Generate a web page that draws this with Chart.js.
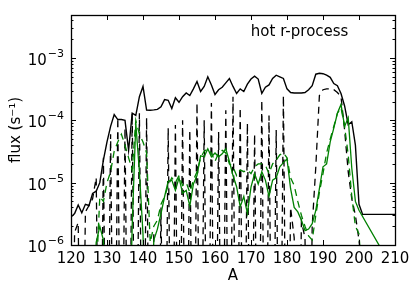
<!DOCTYPE html>
<html>
<head>
<meta charset="utf-8">
<script src="https://cdn.jsdelivr.net/npm/chart.js@4/dist/chart.umd.min.js"></script>
<style>
  html, body { margin: 0; padding: 0; background: #ffffff; }
  canvas { display: block; }
</style>
</head>
<body>
<canvas id="c" width="415" height="296"></canvas>
<script>
// ---- Data ----
const annotation = 'hot r-process';
const xTitle = 'A';
const yTitle = 'flux (s\u207B\u00B9)';
const xTickValues = [120, 130, 140, 150, 160, 170, 180, 190, 200, 210];
const yTickValues = [1e-6, 1e-5, 1e-4, 1e-3];
const yTickBase = '10';
const yTickExponents = ['\u22126', '\u22125', '\u22124', '\u22123'];

// black solid (total)
const massBlackSolid = [120,121,122,123,124,125,126,127,128,129,130,131,132,133,134,135,136,137,138,139,
  140,141,142,143,144,145,146,147,148,149,150,151,152,153,154,155,156,157,158,159,
  160,161,162,163,164,165,166,167,168,169,170,171,172,173,174,175,176,177,178,179,
  180,181,182,183,184,185,186,187,188,189,190,191,192,193,194,195,196,197,198,199,
  200,201,202,203,204,205,206,207,208,209,210];
const fluxBlackSolid = [2.8e-6,3.2e-6,4.4e-6,3.3e-6,4.5e-6,4.3e-6,6.7e-6,7.3e-6,1.0e-5,2.3e-5,
  4.5e-5,8.0e-5,1.24e-4,1.03e-4,1.03e-4,1.0e-4,3.3e-5,1.3e-4,1.2e-4,2.4e-4,
  3.5e-4,1.46e-4,1.45e-4,1.47e-4,1.5e-4,1.65e-4,2.15e-4,2.1e-4,1.55e-4,2.3e-4,
  1.95e-4,2.4e-4,2.75e-4,2.5e-4,3.2e-4,4.2e-4,2.9e-4,3.5e-4,5.0e-4,3.7e-4,
  2.6e-4,3.1e-4,3.4e-4,4.0e-4,4.7e-4,3.5e-4,2.7e-4,3.2e-4,2.9e-4,3.8e-4,
  4.6e-4,5.1e-4,4.6e-4,2.7e-4,3.4e-4,3.7e-4,4.7e-4,5.3e-4,5.0e-4,4.7e-4,
  3.2e-4,2.8e-4,2.75e-4,2.75e-4,2.75e-4,2.8e-4,3.1e-4,3.6e-4,5.5e-4,5.7e-4,
  5.6e-4,5.3e-4,4.9e-4,3.9e-4,3.6e-4,2.7e-4,1.7e-4,8.5e-5,9.5e-5,4.0e-5,
  4.5e-6,3.1e-6,3.1e-6,3.1e-6,3.1e-6,3.1e-6,3.1e-6,3.1e-6,3.1e-6,3.1e-6,3.1e-6];

// black dashed
const massBlackDashed = [120,121,122,123,124,125,126,127,128,129,130,131,132,133,134,135,136,137,138,139,
  140,141,142,143,144,145,146,147,148,149,150,151,152,153,154,155,156,157,158,159,
  160,161,162,163,164,165,166,167,168,169,170,171,172,173,174,175,176,177,178,179,
  180,181,182,183,184,185,186,187,188,189,190,191,192,193,194,195,196,197,198,199,
  200,201];
const fluxBlackDashed = [1e-10,1.6e-6,2.3e-6,1e-10,3.4e-6,4.3e-6,5.5e-6,1.2e-5,1e-10,2.5e-5,
  1e-10,6.0e-5,1e-10,1.1e-4,1e-10,7.5e-5,1e-10,1.3e-4,1e-10,1.3e-4,
  1e-10,1.1e-4,1e-10,1.6e-6,1e-10,4.0e-6,1e-10,7.5e-5,1e-10,8.4e-5,
  1e-10,1.0e-4,1e-10,7.0e-5,1e-10,1.9e-4,1e-10,1.0e-4,1e-10,1.9e-4,
  1e-10,6.5e-5,1e-10,1.45e-4,1e-10,2.4e-4,1e-10,1.6e-4,1e-10,9.0e-5,
  1e-10,6.0e-5,1e-10,2.1e-4,1e-10,1.2e-4,1e-10,7.0e-5,1e-10,2.5e-4,
  1e-10,4.0e-6,1.3e-6,1e-10,2.4e-6,1.3e-6,1e-10,2.0e-6,1.8e-5,2.5e-4,
  3.1e-4,3.2e-4,3.2e-4,3.1e-4,2.8e-4,2.4e-4,7.0e-5,1.5e-5,5.5e-6,3.0e-6,
  1.2e-6,3.0e-7];

// green solid
const massGreenSolid = [126,127,128,129,130,131,132,133,134,135,136,137,138,139,
  140,141,142,143,144,145,146,147,148,149,150,151,152,153,154,155,156,157,158,159,
  160,161,162,163,164,165,166,167,168,169,170,171,172,173,174,175,176,177,178,179,
  180,181,182,183,184,185,186,187,188,189,190,191,192,193,194,195,196,197,198,199,
  200,206];
const fluxGreenSolid = [1e-7,1.1e-6,2.0e-6,1.2e-6,1e-8,1e-8,1e-8,1e-8,1e-8,1e-8,1e-8,2.0e-6,9.0e-5,1.5e-5,
  1.5e-6,1e-8,1e-8,1.2e-6,1.8e-6,3.2e-6,6.0e-6,1.05e-5,1.1e-5,7.5e-6,
  1.2e-5,6.8e-6,7.5e-6,4.2e-6,9.5e-6,1.3e-5,2.7e-5,2.6e-5,3.5e-5,2.6e-5,
  3.0e-5,2.6e-5,2.9e-5,3.5e-5,2.2e-5,1.3e-5,8.6e-6,4.1e-6,6.0e-6,3.2e-6,
  8.5e-6,1.4e-5,9.5e-6,1.5e-5,1.1e-5,6.0e-6,1.1e-5,1.2e-5,1.8e-5,2.1e-5,
  2.4e-5,8.0e-6,4.0e-6,3.4e-6,2.5e-6,1.7e-6,1.8e-6,2.2e-6,3.6e-6,8.0e-6,
  1.8e-5,2.0e-5,4.5e-5,7.5e-5,1.3e-4,1.8e-4,8.0e-5,1.1e-4,1.7e-5,5.0e-6,
  3.6e-6,9.0e-7];

// green dashed
const massGreenDashed = [127,128,129,130,131,132,133,134,135,136,137,138,139,
  140,141,142,143,144,145,146,147,148,149,150,151,152,153,154,155,156,157,158,159,
  160,161,162,163,164,165,166,167,168,169,170,171,172,173,174,175,176,177,178,179,
  180,181,182,183,184,185,186,187,188,189,190,191,192,193,194,195,196,197,198,199,
  200,201];
const fluxGreenDashed = [3e-7,6.0e-6,5.0e-6,1.0e-5,1.5e-5,3.2e-5,4.5e-5,6.0e-5,4.0e-5,2.5e-5,1.6e-5,1.0e-4,6.0e-5,
  4.5e-5,3.0e-5,1.1e-6,2.0e-6,2.5e-6,4.5e-6,6.0e-6,9.0e-6,1.2e-5,1.0e-5,
  1.3e-5,9.0e-6,1.0e-5,7.0e-6,1.1e-5,1.5e-5,2.5e-5,3.2e-5,3.5e-5,3.0e-5,
  2.2e-5,3.0e-5,3.3e-5,3.0e-5,2.0e-5,1.8e-5,1.3e-5,1.6e-5,1.5e-5,1.6e-5,
  1.4e-5,1.8e-5,2.0e-5,2.0e-5,1.9e-5,1.4e-5,2.0e-5,2.3e-5,2.8e-5,3.0e-5,
  2.5e-5,1.2e-5,9.0e-6,5.0e-6,3.0e-6,2.0e-6,1.4e-6,1.2e-6,3.0e-6,7.0e-6,
  1.4e-5,3.0e-5,5.0e-5,8.0e-5,1.3e-4,1.6e-4,8.0e-5,2.8e-5,6.0e-6,2.0e-6,
  1.5e-6,2e-7];

// ---- Chart ----
const FONT = '"DejaVu Sans", "Liberation Sans", sans-serif';
const toPts = (xs, ys) => xs.map((x, i) => ({ x: x, y: ys[i] }));
const GREEN = '#008000';

const frameTicks = {
  id: 'frameTicks',
  afterDatasetsDraw(chart) {
    const { ctx, chartArea: a, scales: { x, y } } = chart;
    ctx.save();
    ctx.strokeStyle = '#000';
    ctx.lineWidth = 1;
    const seg = (x1, y1, x2, y2) => { ctx.beginPath(); ctx.moveTo(x1, y1); ctx.lineTo(x2, y2); ctx.stroke(); };
    xTickValues.forEach(v => {
      const px = Math.round(x.getPixelForValue(v)) + 0.5;
      seg(px, a.bottom, px, a.bottom - 5);
      seg(px, a.top, px, a.top + 5);
    });
    const yMax = y.max;
    for (let e = -6; e <= -3; e++) {
      for (let k = 1; k <= 9; k++) {
        const v = k * Math.pow(10, e);
        if (v > yMax) continue;
        const py = Math.round(y.getPixelForValue(v)) + 0.5;
        const len = k === 1 ? 5 : 2.5;
        seg(a.left, py, a.left + len, py);
        seg(a.right, py, a.right - len, py);
      }
    }
    ctx.lineWidth = 1.3;
    ctx.strokeRect(Math.round(a.left) + 0.5, Math.round(a.top) + 0.5, Math.round(a.width), Math.round(a.height));

    ctx.fillStyle = '#000';
    ctx.textBaseline = 'middle';
    ctx.textAlign = 'left';
    // y tick labels: 10 with superscript exponent
    yTickValues.forEach((v, i) => {
      const py = y.getPixelForValue(v);
      ctx.font = '11px ' + FONT;
      const w2 = ctx.measureText(yTickExponents[i]).width;
      ctx.font = '15px ' + FONT;
      const w1 = ctx.measureText(yTickBase).width;
      const right = a.left - 7;
      ctx.fillText(yTickBase, right - w2 - w1 - 1, py + 3);
      ctx.font = '11px ' + FONT;
      ctx.fillText(yTickExponents[i], right - w2, py - 4);
    });

    ctx.font = '15px ' + FONT;
    ctx.textBaseline = 'alphabetic';
    ctx.fillText(annotation, a.left + 0.555 * a.width, a.top + 21);
    ctx.restore();
  }
};

new Chart(document.getElementById('c'), {
  type: 'line',
  data: {
    datasets: [
      { label: 'green dashed', data: toPts(massGreenDashed, fluxGreenDashed), borderColor: GREEN, borderWidth: 1.3, borderDash: [7, 5] },
      { label: 'green solid', data: toPts(massGreenSolid, fluxGreenSolid), borderColor: GREEN, borderWidth: 1.3 },
      { label: 'black dashed', data: toPts(massBlackDashed, fluxBlackDashed), borderColor: '#000', borderWidth: 1.3, borderDash: [7, 5] },
      { label: 'black solid', data: toPts(massBlackSolid, fluxBlackSolid), borderColor: '#000', borderWidth: 1.4 }
    ]
  },
  options: {
    responsive: false,
    devicePixelRatio: 1,
    animation: false,
    events: [],
    layout: { padding: { top: 15, right: 20, left: 0, bottom: 0 } },
    elements: { point: { radius: 0 }, line: { tension: 0, fill: false } },
    datasets: { line: { clip: 0 } },
    plugins: { legend: { display: false }, tooltip: { enabled: false }, title: { display: false } },
    scales: {
      x: {
        type: 'linear',
        min: 120, max: 210,
        grid: { display: false, drawTicks: false },
        border: { display: false },
        afterBuildTicks: s => { s.ticks = xTickValues.map(v => ({ value: v })); },
        ticks: { color: '#000', font: { family: FONT, size: 15 }, padding: 5, maxRotation: 0, autoSkip: false,
                 callback: v => String(v) },
        title: { display: true, text: xTitle, color: '#000', font: { family: FONT, size: 15 }, padding: { top: 0, bottom: 11 } },
        afterFit: s => { s.height = 51; }
      },
      y: {
        type: 'logarithmic',
        min: 1e-6, max: 4.9e-3,
        grid: { display: false, drawTicks: false },
        border: { display: false },
        afterBuildTicks: s => { s.ticks = yTickValues.map(v => ({ value: v })); },
        ticks: { display: false },
        title: { display: true, text: yTitle, color: '#000', font: { family: FONT, size: 15 }, padding: { top: 7, bottom: 0 } },
        afterFit: s => { s.width = 71; }
      }
    }
  },
  plugins: [frameTicks]
});
</script>
</body>
</html>
